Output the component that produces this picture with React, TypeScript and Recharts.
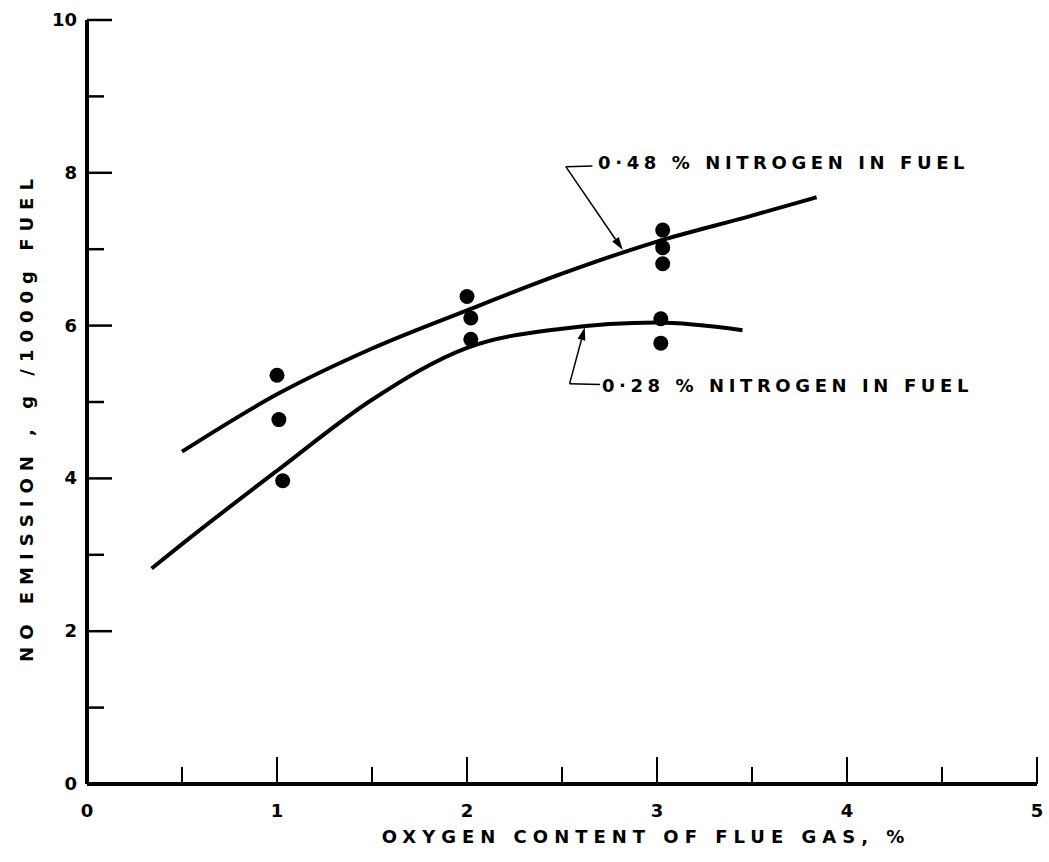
import { ComposedChart, Line, Scatter, XAxis, YAxis, ReferenceLine, ReferenceDot } from 'recharts';

// tick positions
const xTicks = [0, 0.5, 1, 1.5, 2, 2.5, 3, 3.5, 4, 4.5, 5];
const yTicks = [0, 1, 2, 3, 4, 5, 6, 7, 8, 9, 10];

// faired curves
const highNitrogenCurve = [
  { x: 0.5, y: 4.35 },
  { x: 1.0, y: 5.1 },
  { x: 1.5, y: 5.7 },
  { x: 2.0, y: 6.2 },
  { x: 2.5, y: 6.68 },
  { x: 3.0, y: 7.1 },
  { x: 3.5, y: 7.44 },
  { x: 3.84, y: 7.68 },
];

const lowNitrogenCurve = [
  { x: 0.34, y: 2.82 },
  { x: 0.5, y: 3.14 },
  { x: 1.0, y: 4.1 },
  { x: 1.5, y: 5.03 },
  { x: 2.0, y: 5.71 },
  { x: 2.5, y: 5.96 },
  { x: 3.0, y: 6.04 },
  { x: 3.45, y: 5.94 },
];

// measured points
const measured = [
  { x: 1.0, y: 5.35 },
  { x: 1.01, y: 4.77 },
  { x: 1.03, y: 3.97 },
  { x: 2.0, y: 6.38 },
  { x: 2.02, y: 6.1 },
  { x: 2.02, y: 5.82 },
  { x: 3.03, y: 7.25 },
  { x: 3.03, y: 7.02 },
  { x: 3.03, y: 6.81 },
  { x: 3.02, y: 6.09 },
  { x: 3.02, y: 5.77 },
];

const upperNote = '0·48 % NITROGEN IN FUEL';
const lowerNote = '0·28 % NITROGEN IN FUEL';

const FONT = '"DejaVu Sans", sans-serif';

const XTick = (props: any) => {
  const { x, y, payload } = props;
  const v = payload.value;
  const major = Number.isInteger(v);
  return (
    <g>
      {v !== 0 && (
        <line x1={x} y1={y} x2={x} y2={y - (major ? 27 : 17)} stroke="#000" strokeWidth={2} />
      )}
      {major && (
        <text x={x} y={y + 33} textAnchor="middle" fontFamily={FONT} fontWeight="bold" fontSize={18} fill="#000">
          {v}
        </text>
      )}
    </g>
  );
};

const YTick = (props: any) => {
  const { x, y, payload } = props;
  const v = payload.value;
  const major = v % 2 === 0;
  return (
    <g>
      {v !== 0 && (
        <line x1={x} y1={y} x2={x + (major ? 25 : 17)} y2={y} stroke="#000" strokeWidth={2.5} />
      )}
      {major && (
        <text x={x - 10} y={y + 6} textAnchor="end" fontFamily={FONT} fontWeight="bold" fontSize={18} fill="#000">
          {v}
        </text>
      )}
    </g>
  );
};

const Dot = (props: any) => <circle cx={props.cx} cy={props.cy} r={7.5} fill="#000" />;

const Arrow = (props: any) => {
  const { x1, y1, x2, y2 } = props;
  const a = Math.atan2(y2 - y1, x2 - x1);
  const len = 13;
  const w = 4;
  const bx = x2 - len * Math.cos(a);
  const by = y2 - len * Math.sin(a);
  const px = -Math.sin(a) * w;
  const py = Math.cos(a) * w;
  return (
    <g>
      <line x1={x1} y1={y1} x2={bx} y2={by} stroke="#000" strokeWidth={1.5} />
      <polygon points={`${x2},${y2} ${bx + px},${by + py} ${bx - px},${by - py}`} fill="#000" />
    </g>
  );
};

const Plain = (props: any) => (
  <line x1={props.x1} y1={props.y1} x2={props.x2} y2={props.y2} stroke="#000" strokeWidth={1.5} />
);

const noteText = (text: string) => (props: any) => (
  <text x={props.cx} y={props.cy} fontFamily={FONT} fontWeight="bold" fontSize={18} letterSpacing={4.6} fill="#000" dominantBaseline="central">
    {text}
  </text>
);

const XTitle = (props: any) => {
  const vb = props.viewBox;
  return (
    <text x={vb.x + vb.width / 2 + 84} y={vb.y + 59} textAnchor="middle" fontFamily={FONT} fontWeight="bold" fontSize={18} letterSpacing={6} fill="#000">
      OXYGEN CONTENT OF FLUE GAS, %
    </text>
  );
};

const YTitle = (props: any) => {
  const vb = props.viewBox;
  const cx = vb.x + 33;
  const cy = vb.y + vb.height / 2 + 15;
  return (
    <text x={cx} y={cy} transform={`rotate(-90 ${cx} ${cy})`} textAnchor="middle" fontFamily={FONT} fontWeight="bold" fontSize={18} letterSpacing={7} fill="#000">
      NO EMISSION ,  g /1000g  FUEL
    </text>
  );
};

export default function App() {
  return (
    <div style={{ position: 'absolute', left: 0, top: 0, background: '#fff' }}>
      <ComposedChart width={1049} height={862} margin={{ top: 20, right: 12, bottom: 0, left: 0 }}>
        <XAxis
          type="number"
          dataKey="x"
          domain={[0, 5]}
          ticks={xTicks}
          interval={0}
          tickSize={0}
          tickMargin={0}
          tick={<XTick />}
          tickLine={false}
          axisLine={{ stroke: '#000', strokeWidth: 4 }}
          height={78}
          allowDataOverflow
          label={<XTitle />}
        />
        <YAxis
          type="number"
          dataKey="y"
          domain={[0, 10]}
          ticks={yTicks}
          interval={0}
          tickSize={0}
          tickMargin={0}
          tick={<YTick />}
          tickLine={false}
          axisLine={{ stroke: '#000', strokeWidth: 4 }}
          width={87}
          allowDataOverflow
          label={<YTitle />}
        />
        <Line data={highNitrogenCurve} dataKey="y" type="monotone" stroke="#000" strokeWidth={4} dot={false} isAnimationActive={false} />
        <Line data={lowNitrogenCurve} dataKey="y" type="monotone" stroke="#000" strokeWidth={4} dot={false} isAnimationActive={false} />
        <Scatter data={measured} dataKey="y" shape={<Dot />} isAnimationActive={false} />

        <ReferenceLine segment={[{ x: 2.66, y: 8.09 }, { x: 2.52, y: 8.08 }]} shape={<Plain />} />
        <ReferenceLine segment={[{ x: 2.52, y: 8.08 }, { x: 2.82, y: 6.99 }]} shape={<Arrow />} />
        <ReferenceDot x={2.69} y={8.14} r={0} shape={noteText(upperNote)} />

        <ReferenceLine segment={[{ x: 2.7, y: 5.23 }, { x: 2.54, y: 5.24 }]} shape={<Plain />} />
        <ReferenceLine segment={[{ x: 2.54, y: 5.24 }, { x: 2.62, y: 5.98 }]} shape={<Arrow />} />
        <ReferenceDot x={2.71} y={5.22} r={0} shape={noteText(lowerNote)} />
      </ComposedChart>
    </div>
  );
}
